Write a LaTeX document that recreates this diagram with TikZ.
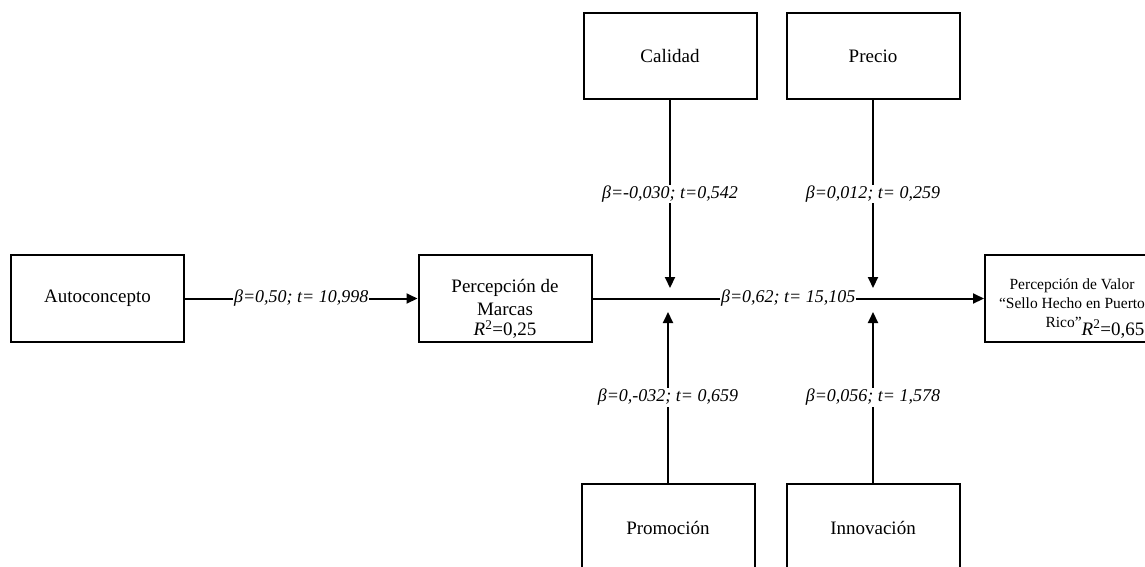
\documentclass[tikz,border=0pt]{standalone}
\usepackage{fontspec}
\setmainfont{Liberation Serif}
\usetikzlibrary{arrows.meta}

\begin{document}
\begin{tikzpicture}[x=1pt, y=-1pt,
    varbox/.style={draw, line width=2pt, minimum width=173pt, minimum height=87pt, inner sep=0pt, align=center, font=\fontsize{19}{23}\selectfont},
    link/.style={line width=2pt, -{Triangle[length=11pt, width=10pt]}},
    coef/.style={fill=white, inner sep=1pt, font=\fontsize{18}{20}\selectfont\itshape}]

    \useasboundingbox (0,0) rectangle (1145,566);
    \clip (0,0) rectangle (1145,566);

    % Variables
    \node[varbox] (autoc) at (97.5,298.5) {Autoconcepto};
    \node[varbox] (marcas) at (505,298.5) {\rule{0pt}{34pt}Percepción de\\Marcas\\[-3pt]\textit{R}\textsuperscript{2}=0,25};
    \node[varbox, minimum width=174pt, font=\fontsize{15.5}{19}\selectfont] (valor) at (1072,298.5)
        {\rule{0pt}{30pt}Percepción de Valor\\“Sello Hecho en Puerto\\\hspace*{46pt}Rico”\raisebox{-8pt}{\fontsize{19}{20}\selectfont\textit{R}\textsuperscript{2}=0,65}};

    % Moderators
    \node[varbox, minimum height=86pt] (calidad) at (670,56) {Calidad};
    \node[varbox, minimum height=86pt] (precio) at (873,56) {Precio};
    \node[varbox] (promo) at (668,527.5) {Promoción};
    \node[varbox] (innov) at (873,527.5) {Innovación};

    % Arrow ends on the main path
    \coordinate (calin) at (670,288);
    \coordinate (prein) at (873,288);
    \coordinate (proin) at (668,312);
    \coordinate (innin) at (873,312);

    % Main paths
    \draw[link] (autoc) -- node[coef] {β=0,50; t= 10,998} (marcas);
    \draw[link] (marcas) -- node[coef] {β=0,62; t= 15,105} (valor);

    % Moderating paths
    \draw[link] (calidad) -- node[coef] {β=-0,030; t=0,542} (calin);
    \draw[link] (precio) -- node[coef] {β=0,012; t= 0,259} (prein);
    \draw[link] (promo) -- node[coef] {β=0,-032; t= 0,659} (proin);
    \draw[link] (innov) -- node[coef] {β=0,056; t= 1,578} (innin);
\end{tikzpicture}
\end{document}
